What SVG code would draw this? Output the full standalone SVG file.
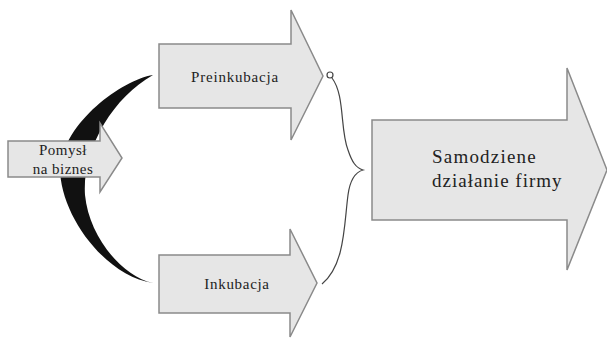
<svg xmlns="http://www.w3.org/2000/svg" width="607" height="338" viewBox="0 0 607 338">
<style>
.arr{fill:#e6e6e6;stroke:#8a8a8a;stroke-width:1.5;stroke-linejoin:miter}
.t{font-family:'Liberation Serif','Times New Roman',Times,serif;fill:#222}
.br{fill:none;stroke:#444;stroke-width:1.2}
</style>
<rect width="607" height="338" fill="#fff"/>
<g id="connectors">
<path d="M153,75 C122,80 64,122 60,168 C60,215 105,276 153,283 C121,276 89,236 85,195 C82,150 112,98 153,75 Z" fill="#111"/>
<circle cx="330" cy="75" r="3" fill="#fff" stroke="#444" stroke-width="1.2"/>
<path class="br" d="M332,78 C345,95 340,130 348,150 C352,162 356,168 363,170 C356,172 350,180 348,195 C344,225 345,265 322,284"/>
</g>
<g id="pomysl">
<path class="arr" d="M8,141 H100 V123 L122,158 L100,192 V177 H8 Z"/>
<text class="t" x="63" y="155" font-size="15" text-anchor="middle" letter-spacing="0.5">Pomysł</text>
<text class="t" x="63" y="174" font-size="15" text-anchor="middle" letter-spacing="0.5">na biznes</text>
</g>
<g id="preinkubacja">
<path class="arr" d="M159,44 H291 V10 L323,76 L291,140 V108 H159 Z"/>
<text class="t" x="235" y="82" font-size="15" text-anchor="middle" letter-spacing="0.8">Preinkubacja</text>
</g>
<g id="inkubacja">
<path class="arr" d="M159,255 H290 V229 L317,283 L290,337 V313 H159 Z"/>
<text class="t" x="237" y="289" font-size="15" text-anchor="middle" letter-spacing="0.7">Inkubacja</text>
</g>
<g id="samodzielne">
<path class="arr" d="M372,120 H567 V68 L607,170 L567,270 V220 H372 Z"/>
<text class="t" x="432" y="163" font-size="19" letter-spacing="1.2">Samodziene</text>
<text class="t" x="432" y="187" font-size="19" letter-spacing="1">działanie firmy</text>
</g>
</svg>
